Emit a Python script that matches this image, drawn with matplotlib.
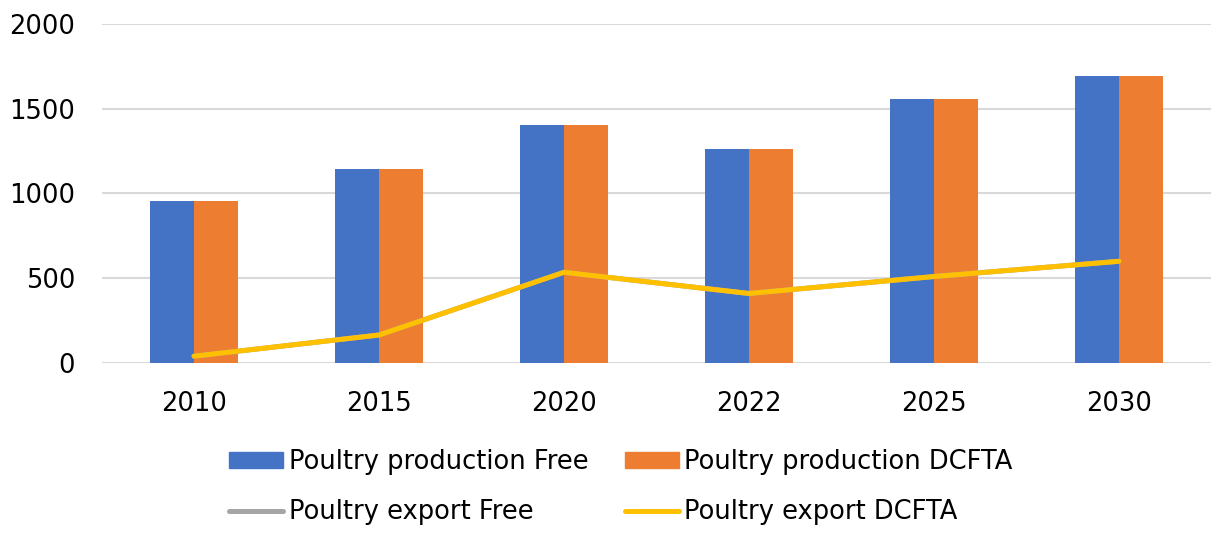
import matplotlib.pyplot as plt
import numpy as np
from matplotlib.patches import Patch
from matplotlib.lines import Line2D

years = ["2010", "2015", "2020", "2022", "2025", "2030"]
production_free = [955, 1145, 1405, 1265, 1555, 1695]
production_dcfta = [955, 1145, 1405, 1265, 1555, 1695]
export_free = [40, 165, 535, 410, 510, 600]
export_dcfta = [40, 165, 535, 410, 510, 600]

BLUE = "#4472C4"
ORANGE = "#ED7D31"
GRAY = "#A5A5A5"
YELLOW = "#FFC000"

plt.rcParams["font.family"] = "DejaVu Sans"

fig = plt.figure(figsize=(12.13, 5.33), dpi=100)
ax = fig.add_axes([0.0837, 0.319, 0.915, 0.636])

x = np.arange(len(years))
w = 0.238
ax.bar(x - w / 2, production_free, w, color=BLUE, zorder=2)
ax.bar(x + w / 2, production_dcfta, w, color=ORANGE, zorder=2)
ax.plot(x, export_free, color=GRAY, lw=3.6, solid_capstyle="round", zorder=3)
ax.plot(x, export_dcfta, color=YELLOW, lw=3.6, solid_capstyle="round", zorder=4)

ax.set_xlim(-0.5, len(years) - 0.5)
ax.set_ylim(0, 2000)
ax.set_yticks([0, 500, 1000, 1500, 2000])
ax.set_xticks(x)
ax.set_xticklabels(years)
ax.tick_params(axis="both", length=0, labelsize=18.5, colors="black")
ax.tick_params(axis="x", pad=20)
ax.tick_params(axis="y", pad=19)
ax.yaxis.grid(True, color="#D9D9D9", lw=1.5, zorder=0)
ax.set_axisbelow(True)
for s in ax.spines.values():
    s.set_visible(False)

# legend fills column by column, so order handles to get rows right
handles = [
    Patch(color=BLUE, label="Poultry production Free"),
    Line2D([], [], color=GRAY, lw=3.6, solid_capstyle="round", label="Poultry export Free"),
    Patch(color=ORANGE, label="Poultry production DCFTA"),
    Line2D([], [], color=YELLOW, lw=3.6, solid_capstyle="round", label="Poultry export DCFTA"),
]
fig.legend(handles=handles, ncol=2, loc="center", bbox_to_anchor=(0.512, 0.086),
           frameon=False, fontsize=18.5, handlelength=2.1, handleheight=0.6,
           handletextpad=0.2, columnspacing=1.44, labelspacing=0.95)

fig.savefig("out.png", dpi=100)
